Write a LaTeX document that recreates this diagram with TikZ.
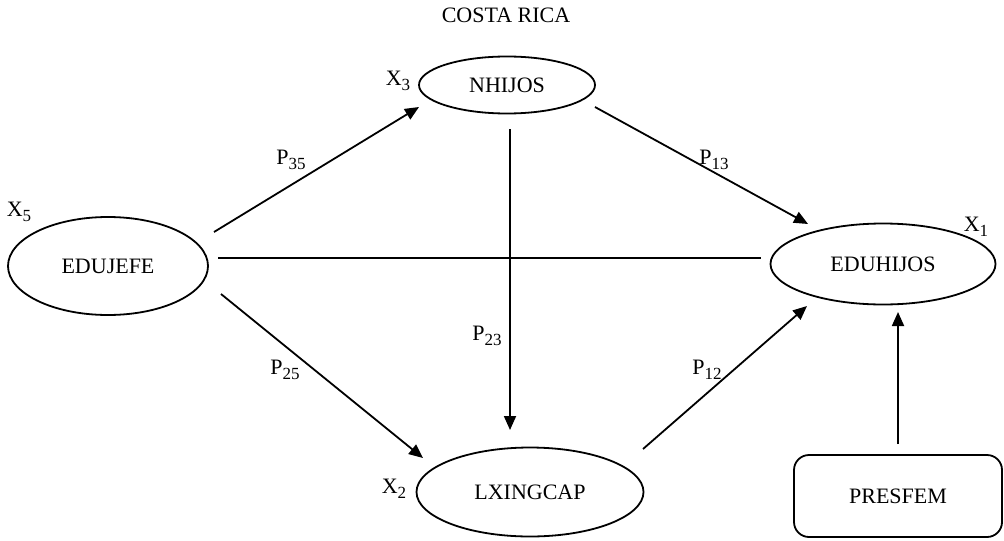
\documentclass[tikz,border=0pt]{standalone}
\usepackage{fontspec}
\setmainfont{Liberation Serif}
\usetikzlibrary{shapes.geometric,arrows.meta}
\newcommand{\sbx}[1]{\raisebox{-0.45ex}{\fontsize{8.5}{9}\selectfont #1}}
\begin{document}
\begin{tikzpicture}[x=0.5pt,y=-0.5pt,
  every node/.style={font=\fontsize{11}{12}\selectfont},
  varell/.style={draw,ellipse,line width=0.9pt,inner sep=0pt},
  varbox/.style={draw,rectangle,rounded corners=7.5pt,line width=0.9pt,inner sep=0pt},
  lbl/.style={inner sep=0pt},
  arr/.style={line width=0.9pt,-{Triangle[length=7pt,width=6pt]}},
  plain/.style={line width=0.9pt}]
\useasboundingbox (0,0) rectangle (1004,540);
% nodes
\node[varell,minimum width=100pt,minimum height=49pt] (edujefe) at (108,266) {EDUJEFE};
\node[varell,minimum width=88pt,minimum height=28.5pt] (nhijos) at (507,85) {NHIJOS};
\node[varell,minimum width=112.5pt,minimum height=40.5pt] (eduhijos) at (883,264) {EDUHIJOS};
\node[varell,minimum width=113.5pt,minimum height=44.5pt] (lxingcap) at (530,492) {LXINGCAP};
\node[varbox,minimum width=104pt,minimum height=41pt] (presfem) at (898,496) {PRESFEM};
% labels
\node[lbl] (title) at (506,15) {COSTA RICA};
\node[lbl] (x3) at (398,81) {X\sbx{3}};
\node[lbl] (x5) at (19,212) {X\sbx{5}};
\node[lbl] (x1) at (976,227) {X\sbx{1}};
\node[lbl] (x2) at (394,489) {X\sbx{2}};
\node[lbl] (p35) at (291,160) {P\sbx{35}};
\node[lbl] (p13) at (714,160) {P\sbx{13}};
\node[lbl] (p23) at (487,336) {P\sbx{23}};
\node[lbl] (p25) at (285,370) {P\sbx{25}};
\node[lbl] (p12) at (707,370) {P\sbx{12}};
% connectors
\draw[arr] ([shift={(106,-34)}]edujefe.center) -- ([shift={(-88,22)}]nhijos.center);
\draw[arr] ([shift={(88,22)}]nhijos.center) -- ([shift={(-75,-40)}]eduhijos.center);
\draw[plain] ([shift={(110,-8)}]edujefe.center) -- ([shift={(-122,-6)}]eduhijos.center);
\draw[arr] ([shift={(3,44)}]nhijos.center) -- ([shift={(-20,-62)}]lxingcap.center);
\draw[arr] ([shift={(113,28)}]edujefe.center) -- ([shift={(-107,-34)}]lxingcap.center);
\draw[arr] ([shift={(113,-43)}]lxingcap.center) -- ([shift={(-76,42)}]eduhijos.center);
\draw[arr] ([shift={(0,-52)}]presfem.center) -- ([shift={(15,48)}]eduhijos.center);
\end{tikzpicture}
\end{document}
